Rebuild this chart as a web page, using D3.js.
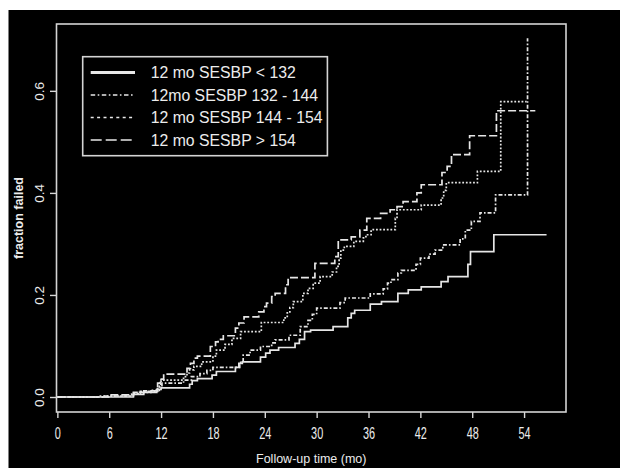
<!DOCTYPE html>
<html>
<head>
<meta charset="utf-8">
<script src="https://cdnjs.cloudflare.com/ajax/libs/d3/7.8.5/d3.min.js"></script>
<style>
  body { margin: 0; background: #fff; }
  text { font-family: "Liberation Sans", Arial, Helvetica, sans-serif; fill: #ececec; }
</style>
</head>
<body>
<div id="chart"></div>
<script>
// step curves: time (months) where the fraction failed jumps, last entry = end of follow-up
var lt132Time = [0, 8.8, 10.0, 11.5, 12.0, 15.3, 15.6, 16.2, 17.9, 18.4, 20.6, 21.0, 21.4, 23.5, 24.1, 24.6, 25.6, 27.5, 28.0, 28.6, 29.3, 31.9, 33.6, 34.0, 34.4, 36.2, 37.5, 39.4, 40.6, 42.1, 44.4, 45.2, 47.5, 47.8, 50.5, 56.6];
var lt132Frac = [0, 0.005, 0.009, 0.015, 0.018, 0.025, 0.032, 0.036, 0.043, 0.05, 0.058, 0.066, 0.069, 0.078, 0.086, 0.092, 0.097, 0.105, 0.113, 0.128, 0.131, 0.138, 0.155, 0.164, 0.17, 0.182, 0.187, 0.203, 0.21, 0.216, 0.226, 0.236, 0.26, 0.285, 0.318, 0.318];

var mid132Time = [0, 5.5, 8.8, 9.6, 11.6, 12.1, 14.6, 15.5, 16.5, 17.3, 18.0, 21.1, 21.5, 22.3, 23.5, 24.8, 25.2, 26.8, 28.1, 29.0, 29.5, 30.0, 32.7, 33.3, 36.2, 37.7, 38.2, 38.6, 39.4, 39.8, 41.5, 42.0, 43.0, 43.7, 44.6, 46.6, 47.2, 47.9, 48.9, 50.7, 54.4];
var mid132Frac = [0, 0.002, 0.007, 0.011, 0.02, 0.027, 0.033, 0.04, 0.046, 0.052, 0.058, 0.068, 0.082, 0.092, 0.099, 0.106, 0.112, 0.121, 0.138, 0.15, 0.162, 0.174, 0.185, 0.194, 0.202, 0.212, 0.223, 0.23, 0.243, 0.248, 0.26, 0.272, 0.28, 0.288, 0.298, 0.31, 0.327, 0.344, 0.361, 0.396, 0.703];

var mid144Time = [0, 4.8, 8.6, 9.5, 11.0, 11.8, 12.0, 14.6, 15.0, 15.3, 15.8, 16.7, 18.0, 18.4, 19.4, 20.2, 21.2, 23.6, 26.2, 26.6, 26.9, 27.3, 28.4, 29.0, 29.6, 30.4, 31.8, 32.3, 32.6, 32.8, 33.2, 34.3, 35.4, 35.7, 36.3, 39.1, 39.3, 42.1, 44.4, 44.7, 45.0, 48.6, 51.3, 54.3];
var mid144Frac = [0, 0.002, 0.006, 0.009, 0.013, 0.025, 0.033, 0.04, 0.047, 0.053, 0.06, 0.069, 0.08, 0.092, 0.103, 0.115, 0.128, 0.146, 0.155, 0.165, 0.175, 0.187, 0.203, 0.213, 0.223, 0.236, 0.245, 0.256, 0.272, 0.288, 0.295, 0.305, 0.312, 0.318, 0.328, 0.35, 0.367, 0.376, 0.39, 0.405, 0.42, 0.442, 0.579, 0.579];

var gt154Time = [0, 6.1, 8.8, 10.0, 11.6, 11.9, 12.3, 15.0, 15.4, 15.8, 16.2, 17.7, 18.3, 18.6, 19.2, 20.6, 21.0, 21.6, 23.3, 23.9, 24.2, 24.8, 25.2, 26.4, 26.7, 29.8, 32.1, 32.5, 34.0, 35.0, 35.8, 37.4, 38.5, 39.3, 40.0, 41.6, 42.1, 44.5, 45.1, 45.6, 47.7, 50.8, 55.3];
var gt154Frac = [0, 0.004, 0.009, 0.012, 0.027, 0.035, 0.045, 0.056, 0.066, 0.076, 0.08, 0.099, 0.108, 0.113, 0.12, 0.135, 0.145, 0.157, 0.167, 0.177, 0.184, 0.197, 0.203, 0.22, 0.234, 0.262, 0.275, 0.308, 0.314, 0.327, 0.35, 0.36, 0.367, 0.373, 0.383, 0.4, 0.416, 0.44, 0.452, 0.475, 0.512, 0.561, 0.561];

var legendLabels = ["12 mo SESBP < 132", "12mo SESBP 132 - 144", "12 mo SESBP 144 - 154", "12 mo SESBP > 154"];
var xTicks = [0, 6, 12, 18, 24, 30, 36, 42, 48, 54];
var yTicks = [0, 0.2, 0.4, 0.6];

var svgWidth = 620;
var svgHeight = 468;

// plot box in pixels
var box = { left: 56.5, right: 566, top: 24, bottom: 412 };

var svg = d3.select("#chart")
  .append("svg")
  .attr("width", svgWidth)
  .attr("height", svgHeight);

// black scanned panel
svg.append("rect")
  .attr("x", 8.5)
  .attr("y", 10)
  .attr("width", svgWidth - 8.5)
  .attr("height", svgHeight - 10)
  .attr("fill", "#000");

var xScale = d3.scaleLinear()
  .domain([-0.1, 58.85])
  .range([box.left, box.right]);

var yScale = d3.scaleLinear()
  .domain([-0.0294, 0.731])
  .range([box.bottom, box.top]);

// axes
var xAxis = svg.append("g")
  .attr("transform", `translate(0, ${box.bottom})`)
  .call(d3.axisBottom(xScale).tickValues(xTicks).tickSize(6).tickFormat(d3.format("d")));

xAxis.select(".domain").remove();
xAxis.selectAll("line").attr("stroke", "#d8d8d8").attr("stroke-width", 1.4);
xAxis.selectAll("text")
  .attr("y", 27)
  .attr("dy", 0)
  .attr("transform", "scale(0.68,1)")
  .style("font-size", "16px")
  .attr("fill", "#ececec");

var yAxis = svg.append("g")
  .attr("transform", `translate(${box.left}, 0)`)
  .call(d3.axisLeft(yScale).tickValues(yTicks).tickSize(6.5).tickFormat(d3.format(".1f")));

yAxis.select(".domain").remove();
yAxis.selectAll("line").attr("stroke", "#d8d8d8").attr("stroke-width", 1.4);
yAxis.selectAll("text")
  .attr("transform", "rotate(-90)")
  .attr("x", 0)
  .attr("y", -12.5)
  .attr("dy", 0)
  .attr("text-anchor", "middle")
  .style("font-size", "13.5px")
  .attr("fill", "#ececec");

// plot frame
svg.append("rect")
  .attr("x", box.left)
  .attr("y", box.top)
  .attr("width", box.right - box.left)
  .attr("height", box.bottom - box.top)
  .attr("fill", "none")
  .attr("stroke", "#d4d4d4")
  .attr("stroke-width", 1.6);

// axis titles
svg.append("text")
  .attr("x", (box.left + box.right) / 2)
  .attr("y", 463)
  .attr("text-anchor", "middle")
  .style("font-size", "12.5px")
  .text("Follow-up time (mo)");

svg.append("text")
  .attr("transform", `translate(23, ${(box.top + box.bottom) / 2}) rotate(-90)`)
  .attr("text-anchor", "middle")
  .style("font-size", "12.5px")
  .style("font-weight", "bold")
  .text("fraction failed");

// curves
var series = [
  { time: lt132Time, frac: lt132Frac, dash: null, legendDash: null, legendWidth: 2.8 },
  { time: mid132Time, frac: mid132Frac, dash: "4,2,1.6,2", legendDash: "4.5,2.5,1.6,2.5", legendWidth: 1.6 },
  { time: mid144Time, frac: mid144Frac, dash: "1.8,1.8", legendDash: "3,3.4", legendWidth: 1.6 },
  { time: gt154Time, frac: gt154Frac, dash: "8,3", legendDash: "11,4", legendWidth: 1.6 }
];

var stepLine = d3.line()
  .x(d => xScale(d[0]))
  .y(d => yScale(d[1]))
  .curve(d3.curveStepAfter);

var curveGroup = svg.append("g");

series.forEach(function(s) {
  var pts = s.time.map((t, i) => [t, s.frac[i]]);
  curveGroup.append("path")
    .attr("d", stepLine(pts))
    .attr("fill", "none")
    .attr("stroke", "#e6e6e6")
    .attr("stroke-width", 1.7)
    .attr("stroke-dasharray", s.dash);
});

// legend
var legend = svg.append("g");

legend.append("rect")
  .attr("x", 82.7)
  .attr("y", 56.7)
  .attr("width", 244.7)
  .attr("height", 99)
  .attr("fill", "#000")
  .attr("stroke", "#d4d4d4")
  .attr("stroke-width", 1.6);

legendLabels.forEach(function(label, i) {
  var rowY = 72.5 + i * 22.5;
  legend.append("line")
    .attr("x1", 90.7)
    .attr("x2", 135)
    .attr("y1", rowY)
    .attr("y2", rowY)
    .attr("stroke", "#e8e8e8")
    .attr("stroke-width", series[i].legendWidth)
    .attr("stroke-dasharray", series[i].legendDash);
  legend.append("text")
    .attr("x", 150.7)
    .attr("y", rowY + 5.6)
    .style("font-size", "15.8px")
    .text(label);
});
</script>
</body>
</html>
